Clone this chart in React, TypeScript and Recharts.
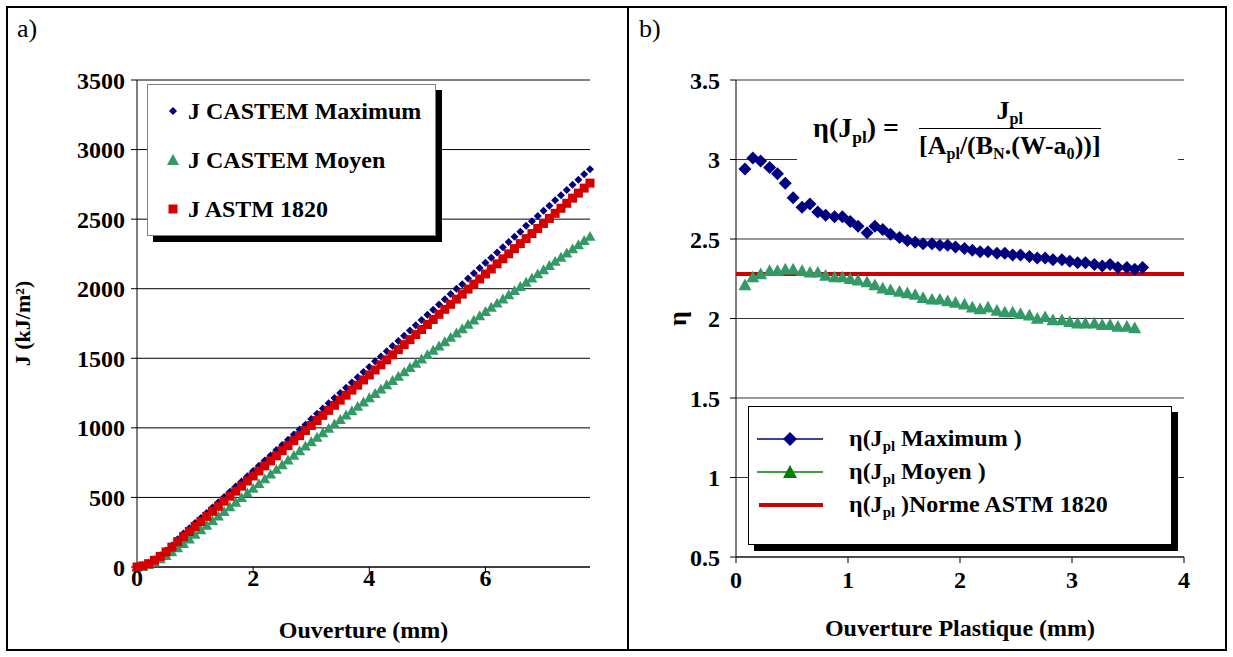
import React from "react";
import {
  ScatterChart,
  Scatter,
  XAxis,
  YAxis,
  CartesianGrid,
} from "recharts";

const FONT = '"Liberation Serif", "Times New Roman", serif';

// a) J vs ouverture
const ouverture = [
  0, 0.1, 0.2, 0.3, 0.4, 0.5, 0.6, 0.7, 0.8, 0.9, 1, 1.1, 1.2, 1.3, 1.4, 1.5, 1.6, 1.7, 1.8,
  1.9, 2, 2.1, 2.2, 2.3, 2.4, 2.5, 2.6, 2.7, 2.8, 2.9, 3, 3.1, 3.2, 3.3, 3.4, 3.5, 3.6, 3.7,
  3.8, 3.9, 4, 4.1, 4.2, 4.3, 4.4, 4.5, 4.6, 4.7, 4.8, 4.9, 5, 5.1, 5.2, 5.3, 5.4, 5.5, 5.6,
  5.7, 5.8, 5.9, 6, 6.1, 6.2, 6.3, 6.4, 6.5, 6.6, 6.7, 6.8, 6.9, 7, 7.1, 7.2, 7.3, 7.4, 7.5,
  7.6, 7.7, 7.8,
];
const jCastemMax = [
  0, 9, 28, 55, 84, 118, 155, 200, 241, 279, 316, 353, 388, 428, 466, 503, 540, 578, 615,
  653, 690, 727, 765, 802, 840, 877, 914, 952, 989, 1022, 1064, 1101, 1139, 1176, 1214,
  1251, 1288, 1326, 1363, 1401, 1438, 1479, 1513, 1550, 1588, 1625, 1662, 1700, 1737, 1775,
  1812, 1849, 1887, 1924, 1962, 1999, 2032, 2074, 2111, 2149, 2186, 2223, 2261, 2298, 2336,
  2373, 2410, 2452, 2485, 2523, 2560, 2597, 2635, 2672, 2710, 2747, 2784, 2822, 2859,
];
const jCastemMoyen = [
  0, 5, 17, 35, 58, 82, 108, 137, 168, 201, 234, 267, 300, 333, 366, 399, 432, 465, 498,
  531, 565, 599, 633, 667, 701, 735, 769, 802, 835, 868, 900, 932, 964, 996, 1028, 1060,
  1092, 1123, 1154, 1185, 1216, 1247, 1278, 1309, 1340, 1371, 1402, 1433, 1464, 1495, 1526,
  1557, 1588, 1619, 1650, 1681, 1712, 1743, 1774, 1805, 1836, 1866, 1896, 1926, 1956, 1986,
  2016, 2046, 2076, 2106, 2136, 2166, 2196, 2226, 2256, 2286, 2316, 2346, 2376,
];
const jAstm = [
  0, 8, 24, 48, 76, 108, 143, 182, 218, 255, 291, 327, 364, 400, 436, 473, 509, 545, 581,
  618, 654, 690, 727, 763, 799, 836, 872, 908, 944, 981, 1017, 1053, 1090, 1126, 1162, 1199,
  1235, 1271, 1307, 1344, 1380, 1416, 1453, 1489, 1525, 1562, 1598, 1634, 1670, 1707, 1743,
  1779, 1816, 1852, 1888, 1925, 1961, 1997, 2033, 2070, 2106, 2142, 2179, 2215, 2251, 2288,
  2324, 2360, 2396, 2433, 2469, 2505, 2542, 2578, 2614, 2651, 2687, 2723, 2759,
];
const jTicksX = [0, 2, 4, 6];
const jTicksY = [0, 500, 1000, 1500, 2000, 2500, 3000, 3500];

// b) eta vs ouverture plastique
const ouvPl = [
  0.08, 0.15, 0.22, 0.3, 0.37, 0.44, 0.51, 0.59, 0.66, 0.73, 0.8, 0.88, 0.95, 1.02, 1.09,
  1.17, 1.24, 1.31, 1.38, 1.46, 1.53, 1.6, 1.67, 1.75, 1.82, 1.89, 1.96, 2.04, 2.11, 2.18,
  2.25, 2.33, 2.4, 2.47, 2.54, 2.62, 2.69, 2.76, 2.83, 2.91, 2.98, 3.05, 3.12, 3.2, 3.27,
  3.34, 3.41, 3.49, 3.56, 3.63,
];
const etaMax = [
  2.94, 3.01, 2.99, 2.95, 2.91, 2.85, 2.76, 2.7, 2.72, 2.67, 2.65, 2.64, 2.64, 2.61, 2.58,
  2.54, 2.58, 2.56, 2.53, 2.51, 2.49, 2.48, 2.47, 2.47, 2.46, 2.46, 2.45, 2.44, 2.43, 2.42,
  2.42, 2.41, 2.41, 2.4, 2.4, 2.39, 2.38, 2.38, 2.37, 2.37, 2.36, 2.35, 2.35, 2.34, 2.33,
  2.34, 2.32, 2.32, 2.31, 2.32,
];
const etaMoyen = [
  2.21, 2.26, 2.28, 2.3, 2.3, 2.31, 2.31, 2.3, 2.29, 2.29, 2.27, 2.26, 2.26, 2.25, 2.24,
  2.23, 2.21, 2.19, 2.18, 2.17, 2.16, 2.15, 2.13, 2.12, 2.12, 2.11, 2.1, 2.09, 2.07, 2.06,
  2.07, 2.05, 2.04, 2.04, 2.03, 2.02, 2.0, 2.01, 1.99, 1.99, 1.98, 1.97, 1.97, 1.97, 1.96,
  1.96, 1.95, 1.95, 1.94,
];
const astmX = [0, 4];
const astmEta = [2.28, 2.28];
const etaTicksX = [0, 1, 2, 3, 4];
const etaTicksY = [0.5, 1, 1.5, 2, 2.5, 3, 3.5];

const NAVY = "#000080";
const SEA = "#339966";
const RED = "#d40000";

const tickStyle = { fill: "#000", fontSize: 24, fontWeight: "bold", fontFamily: FONT };

const diamond = (r: number, fill: string) => (p: any) => (
  <path d={`M${p.cx},${p.cy - r}L${p.cx + r},${p.cy}L${p.cx},${p.cy + r}L${p.cx - r},${p.cy}Z`} fill={fill} />
);
const square = (h: number, fill: string) => (p: any) => (
  <rect x={p.cx - h} y={p.cy - h} width={h * 2} height={h * 2} fill={fill} />
);
const triangle = (h: number, fill: string) => (p: any) => (
  <path d={`M${p.cx},${p.cy - h}L${p.cx + h},${p.cy + h * 0.8}L${p.cx - h},${p.cy + h * 0.8}Z`} fill={fill} />
);

const xTitle = (text: string, dy: number) => (p: any) => {
  const vb = p.viewBox || {};
  return (
    <text x={vb.x + vb.width / 2} y={vb.y + dy} textAnchor="middle" fontFamily={FONT} fontWeight="bold" fontSize={24} fill="#000">
      {text}
    </text>
  );
};
const yTitle = (text: string, dx: number, size: number) => (p: any) => {
  const vb = p.viewBox || {};
  const x = vb.x + dx;
  const y = vb.y + vb.height / 2;
  return (
    <text x={x} y={y} transform={`rotate(-90 ${x} ${y})`} textAnchor="middle" dominantBaseline="central" fontFamily={FONT} fontWeight="bold" fontSize={size} fill="#000">
      {text}
    </text>
  );
};

const Sub = ({ children }: { children: React.ReactNode }) => (
  <span style={{ fontSize: "0.62em", position: "relative", top: "0.32em" }}>{children}</span>
);

function JChart() {
  const maxData = ouverture.map((x, i) => ({ x, y: jCastemMax[i] }));
  const moyData = ouverture.map((x, i) => ({ x, y: jCastemMoyen[i] }));
  const astmData = ouverture.map((x, i) => ({ x, y: jAstm[i] }));
  return (
    <ScatterChart width={620} height={657} margin={{ top: 80, right: 38, bottom: 30, left: 0 }}>
      <CartesianGrid vertical={false} stroke="#000" />
      <XAxis type="number" dataKey="x" domain={[0, 7.8]} ticks={jTicksX} tick={tickStyle} tickSize={6} tickMargin={-4} height={60} stroke="#000" label={{ content: xTitle("Ouverture (mm)", 71) }} />
      <YAxis type="number" dataKey="y" domain={[0, 3500]} ticks={jTicksY} tick={tickStyle} tickSize={6} tickMargin={6} width={129} stroke="#000" label={{ content: yTitle("J (kJ/m²)", 14, 22) }} />
      <XAxis xAxisId="top" orientation="top" type="number" dataKey="x" domain={[0, 7.8]} height={0} tick={false} tickLine={false} stroke="#808080" />
      <YAxis yAxisId="right" orientation="right" type="number" dataKey="y" domain={[0, 3500]} width={0} tick={false} tickLine={false} stroke="#808080" />
      <Scatter name="J CASTEM Maximum" data={maxData} shape={diamond(4, NAVY)} isAnimationActive={false} />
      <Scatter name="J CASTEM Moyen" data={moyData} shape={triangle(5.5, SEA)} isAnimationActive={false} />
      <Scatter name="J ASTM 1820" data={astmData} shape={square(4.5, RED)} isAnimationActive={false} />
    </ScatterChart>
  );
}

function EtaChart() {
  const maxData = ouvPl.map((x, i) => ({ x, y: etaMax[i] }));
  const moyData = etaMoyen.map((y, i) => ({ x: ouvPl[i], y }));
  const astmData = astmX.map((x, i) => ({ x, y: astmEta[i] }));
  return (
    <ScatterChart width={596} height={657} margin={{ top: 80, right: 42, bottom: 30, left: 0 }}>
      <CartesianGrid vertical={false} stroke="#333" />
      <XAxis type="number" dataKey="x" domain={[0, 4]} ticks={etaTicksX} tick={tickStyle} tickSize={6} tickMargin={8} height={70} stroke="#000" label={{ content: xTitle("Ouverture Plastique (mm)", 79) }} />
      <YAxis type="number" dataKey="y" domain={[0.5, 3.5]} ticks={etaTicksY} tick={tickStyle} tickSize={6} tickMargin={10} width={106} stroke="#000" label={{ content: yTitle("η", 47, 26) }} />
      <XAxis xAxisId="top" orientation="top" type="number" dataKey="x" domain={[0, 4]} height={0} tick={false} tickLine={false} stroke="#808080" />
      <YAxis yAxisId="right" orientation="right" type="number" dataKey="y" domain={[0.5, 3.5]} width={0} tick={false} tickLine={false} stroke="#808080" />
      <Scatter name="η(Jpl )Norme ASTM 1820" data={astmData} line={{ stroke: "#cc0000", strokeWidth: 4 }} shape={() => <g />} isAnimationActive={false} />
      <Scatter name="η(Jpl Maximum )" data={maxData} shape={diamond(6.5, NAVY)} isAnimationActive={false} />
      <Scatter name="η(Jpl Moyen )" data={moyData} shape={triangle(6.5, SEA)} isAnimationActive={false} />
    </ScatterChart>
  );
}

const legendText: React.CSSProperties = {
  position: "absolute",
  fontFamily: FONT,
  fontWeight: "bold",
  fontSize: 24,
  whiteSpace: "nowrap",
  lineHeight: "24px",
};

function LegendA() {
  const rows = [
    { label: "J CASTEM Maximum", mark: <path d="M6,2L10,6L6,10L2,6Z" fill={NAVY} /> },
    { label: "J CASTEM Moyen", mark: <path d="M6,0L12,11L0,11Z" fill={SEA} /> },
    { label: "J ASTM 1820", mark: <rect x={1.5} y={1.5} width={9} height={9} fill={RED} /> },
  ];
  return (
    <div style={{ position: "absolute", left: 147, top: 84, width: 289, height: 152, border: "1px solid #808080", background: "#fff", boxShadow: "6px 6px 0 #000", boxSizing: "border-box" }}>
      {rows.map((r, i) => (
        <div key={r.label}>
          <svg width={12} height={12} style={{ position: "absolute", left: 19, top: 20 + i * 49 }}>{r.mark}</svg>
          <div style={{ ...legendText, left: 40, top: 14 + i * 49 }}>{r.label}</div>
        </div>
      ))}
    </div>
  );
}

function LegendB() {
  const rows = [
    { name: "Maximum )", mark: <><line x1={0} y1={10} x2={66} y2={10} stroke={NAVY} strokeWidth={1.5} /><path d="M33,3L40,10L33,17L26,10Z" fill={NAVY} /></> },
    { name: "Moyen )", mark: <><line x1={0} y1={10} x2={66} y2={10} stroke="#008000" strokeWidth={1.5} /><path d="M33,3L40,16L26,16Z" fill="#008000" /></> },
    { name: ")Norme ASTM 1820", mark: <line x1={2} y1={10} x2={66} y2={10} stroke="#cc0000" strokeWidth={4} /> },
  ];
  return (
    <div style={{ position: "absolute", left: 748, top: 406, width: 424, height: 139, border: "1.5px solid #000", background: "#fff", boxShadow: "6px 6px 0 #000", boxSizing: "border-box" }}>
      {rows.map((r, i) => (
        <div key={r.name}>
          <svg width={68} height={20} style={{ position: "absolute", left: 8, top: 22 + i * 33 }}>{r.mark}</svg>
          <div style={{ ...legendText, left: 100, top: 19 + i * 33 }}>
            η(J<Sub>pl</Sub> {r.name}
          </div>
        </div>
      ))}
    </div>
  );
}

function Formula() {
  return (
    <div style={{ position: "absolute", left: 797, top: 90, width: 381, height: 76, background: "#fff", fontFamily: FONT, fontWeight: "bold", fontSize: 26, display: "flex", alignItems: "center", justifyContent: "flex-start", paddingLeft: 16, boxSizing: "border-box", whiteSpace: "nowrap" }}>
      <span style={{ marginRight: 20, fontSize: 28 }}>η(J<Sub>pl</Sub>) =</span>
      <span style={{ display: "inline-flex", flexDirection: "column", alignItems: "center" }}>
        <span style={{ paddingBottom: 2 }}>J<Sub>pl</Sub></span>
        <span style={{ borderTop: "1.5px solid #000", paddingTop: 2 }}>
          [A<Sub>pl</Sub>/(B<Sub>N</Sub>.(W-a<Sub>0</Sub>))]
        </span>
      </span>
    </div>
  );
}

export default function App() {
  return (
    <div style={{ position: "absolute", left: 0, top: 0, width: 1233, height: 657, background: "#fff" }}>
      <div style={{ position: "absolute", left: 6, top: 6, width: 1221, height: 645, border: "2px solid #000", boxSizing: "border-box" }} />
      <div style={{ position: "absolute", left: 627, top: 6, width: 2, height: 645, background: "#000" }} />
      <div style={{ position: "absolute", left: 17, top: 14, fontFamily: FONT, fontSize: 26 }}>a)</div>
      <div style={{ position: "absolute", left: 639, top: 14, fontFamily: FONT, fontSize: 26 }}>b)</div>
      <div style={{ position: "absolute", left: 8, top: 0 }}>
        <JChart />
      </div>
      <div style={{ position: "absolute", left: 630, top: 0 }}>
        <EtaChart />
      </div>
      <LegendA />
      <Formula />
      <LegendB />
    </div>
  );
}
